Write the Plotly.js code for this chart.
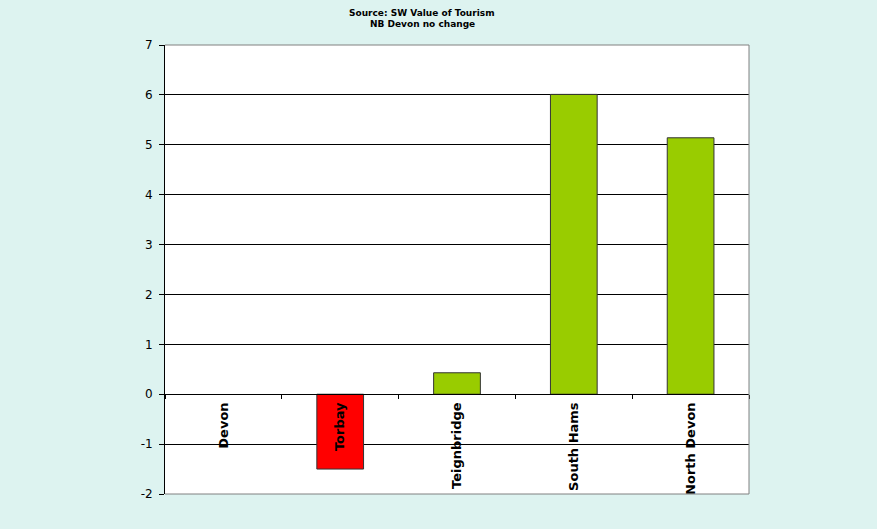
<!DOCTYPE html>
<html>
<head>
<meta charset="utf-8">
<script src="https://cdn.plot.ly/plotly-3.0.1.min.js"></script>
<style>
  html, body { margin: 0; padding: 0; background: #DDF3F0; }
  #chart { width: 877px; height: 529px; }
</style>
</head>
<body>
<div id="chart"></div>
<script>
// Change by district
const districts = ["Devon", "Torbay", "Teignbridge", "South Hams", "North Devon"];
const changeValues = [0, -1.5, 0.43, 6.01, 5.14];
const barColors = ["#99CC00", "#FF0000", "#99CC00", "#99CC00", "#99CC00"];
const yTicks = [-2, -1, 0, 1, 2, 3, 4, 5, 6, 7];
const yTickLabels = yTicks.map(String);

const trace = {
  type: "bar",
  x: districts,
  y: changeValues,
  marker: {
    color: barColors,
    // no outline on a zero-height bar
    line: { color: "#333333", width: changeValues.map(v => (v === 0 ? 0 : 1)) }
  },
  hoverinfo: "x+y"
};

const layout = {
  width: 877,
  height: 529,
  paper_bgcolor: "#DDF3F0",
  plot_bgcolor: "#FFFFFF",
  margin: { l: 165, r: 128, t: 45, b: 35 },
  bargap: 0.6,
  showlegend: false,
  font: { family: "DejaVu Sans, Verdana, sans-serif", color: "#000000" },
  xaxis: {
    type: "category",
    anchor: "free",
    position: 2 / 9,
    showline: true,
    linecolor: "#000000",
    linewidth: 1,
    ticks: "outside",
    tickson: "boundaries",
    ticklen: 4,
    tickcolor: "#000000",
    tickangle: -90,
    ticklabelstandoff: 2,
    tickfont: { size: 13, weight: "bold", color: "#000000" },
    showgrid: false,
    zeroline: false
  },
  yaxis: {
    range: [-2, 7],
    tickvals: yTicks,
    ticktext: yTickLabels,
    showline: true,
    linecolor: "#000000",
    linewidth: 1,
    ticks: "outside",
    ticklen: 5,
    tickcolor: "#000000",
    ticklabelstandoff: 4,
    tickfont: { size: 12, color: "#000000" },
    showgrid: true,
    gridcolor: "#000000",
    gridwidth: 1,
    zeroline: false
  },
  shapes: [
    {
      type: "path",
      xref: "paper", yref: "paper",
      path: "M0,1 L1,1 L1,0 L0,0",
      line: { color: "#808080", width: 1 },
      layer: "above"
    }
  ],
  annotations: [
    {
      text: "<b>Source: SW Value of Tourism</b>",
      xref: "paper", yref: "paper",
      x: (422 - 165) / 584, y: 1,
      yshift: 32,
      xanchor: "center", yanchor: "middle",
      showarrow: false,
      font: { size: 9, color: "#000000" }
    },
    {
      text: "<b>NB Devon no change</b>",
      xref: "paper", yref: "paper",
      x: (422 - 165) / 584, y: 1,
      yshift: 21,
      xanchor: "center", yanchor: "middle",
      showarrow: false,
      font: { size: 9, color: "#000000" }
    }
  ]
};

Plotly.newPlot("chart", [trace], layout, { displayModeBar: false, staticPlot: true });
</script>
</body>
</html>
